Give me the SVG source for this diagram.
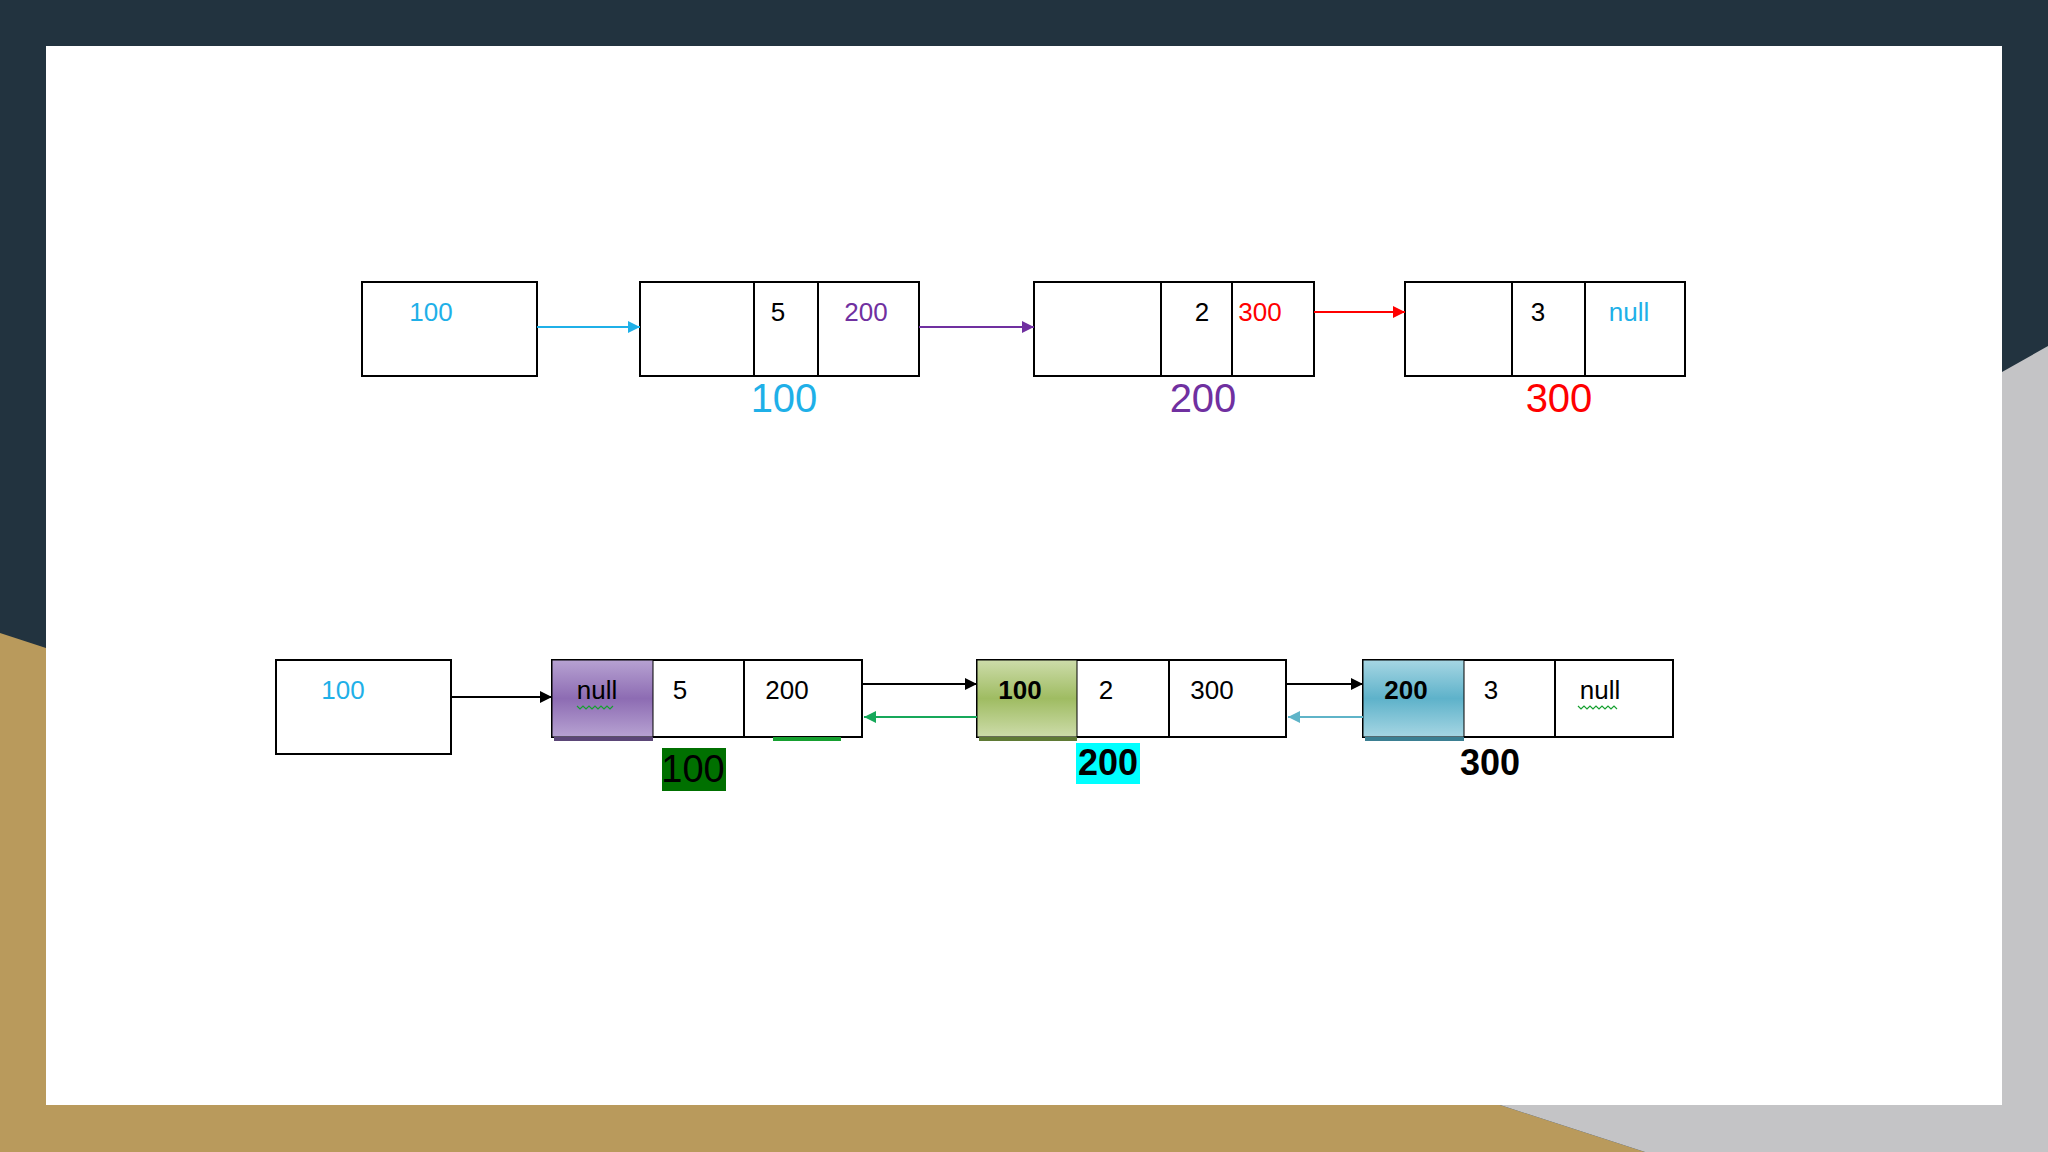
<svg xmlns="http://www.w3.org/2000/svg" width="2048" height="1152" viewBox="0 0 2048 1152">
<defs>
<style>
.b{fill:#fff;stroke:#000;stroke-width:2}
.l{stroke:#000;stroke-width:2}
.t{font-family:"Liberation Sans",Arial,sans-serif;font-size:26px;text-anchor:middle}
.big{font-family:"Liberation Sans",Arial,sans-serif;font-size:40px;text-anchor:middle}
.bd{font-weight:bold}
</style>
<marker id="mk" viewBox="0 0 10 10" refX="10" refY="5" markerWidth="6" markerHeight="6" orient="auto"><path d="M0,0L10,5L0,10z" fill="context-stroke"/></marker>
<marker id="mkB" viewBox="0 0 10 10" refX="10" refY="5" markerWidth="6" markerHeight="6" orient="auto"><path d="M0,0L10,5L0,10z" fill="#000"/></marker>
<marker id="mkC" viewBox="0 0 10 10" refX="10" refY="5" markerWidth="6" markerHeight="6" orient="auto"><path d="M0,0L10,5L0,10z" fill="#1fb0e8"/></marker>
<marker id="mkP" viewBox="0 0 10 10" refX="10" refY="5" markerWidth="6" markerHeight="6" orient="auto"><path d="M0,0L10,5L0,10z" fill="#7030a0"/></marker>
<marker id="mkR" viewBox="0 0 10 10" refX="10" refY="5" markerWidth="6" markerHeight="6" orient="auto"><path d="M0,0L10,5L0,10z" fill="#ff0000"/></marker>
<marker id="mkG" viewBox="0 0 10 10" refX="10" refY="5" markerWidth="6" markerHeight="6" orient="auto"><path d="M0,0L10,5L0,10z" fill="#16a85a"/></marker>
<marker id="mkT" viewBox="0 0 10 10" refX="10" refY="5" markerWidth="6" markerHeight="6" orient="auto"><path d="M0,0L10,5L0,10z" fill="#5fb4c8"/></marker>
<linearGradient id="gP" x1="0" y1="0" x2="0" y2="1"><stop offset="0" stop-color="#b7a2d2"/><stop offset=".5" stop-color="#8d6cb3"/><stop offset="1" stop-color="#b7a2d2"/></linearGradient>
<linearGradient id="gG" x1="0" y1="0" x2="0" y2="1"><stop offset="0" stop-color="#cddcaa"/><stop offset=".5" stop-color="#9fbc62"/><stop offset="1" stop-color="#cddcaa"/></linearGradient>
<linearGradient id="gB" x1="0" y1="0" x2="0" y2="1"><stop offset="0" stop-color="#a6d6e3"/><stop offset=".5" stop-color="#5eb2ca"/><stop offset="1" stop-color="#a6d6e3"/></linearGradient>
</defs>
<rect width="2048" height="1152" fill="#22333f"/>
<polygon points="0,633 46,648 46,1105 1500,1105 1645,1152 0,1152" fill="#b99a5c"/>
<polygon points="2048,346 2002,372 2002,1105 1500,1105 1645,1152 2048,1152" fill="#c4c4c6"/>
<rect x="46" y="46" width="1956" height="1059" fill="#fff"/>
<g id="head1"><rect class="b" x="362" y="282" width="175" height="94"/><text class="t" x="431" y="321" fill="#1fb0e8">100</text></g>
<g id="n100"><rect class="b" x="640" y="282" width="279" height="94"/><line class="l" x1="754" y1="282" x2="754" y2="376"/><line class="l" x1="818" y1="282" x2="818" y2="376"/>
<text class="t" x="778" y="321">5</text><text class="t" x="866" y="321" fill="#7030a0">200</text><text class="big" x="784" y="412" fill="#1fb0e8">100</text></g>
<g id="n200"><rect class="b" x="1034" y="282" width="280" height="94"/><line class="l" x1="1161" y1="282" x2="1161" y2="376"/><line class="l" x1="1232" y1="282" x2="1232" y2="376"/>
<text class="t" x="1202" y="321">2</text><text class="t" x="1260" y="321" fill="#ff0000">300</text><text class="big" x="1203" y="412" fill="#7030a0">200</text></g>
<g id="n300"><rect class="b" x="1405" y="282" width="280" height="94"/><line class="l" x1="1512" y1="282" x2="1512" y2="376"/><line class="l" x1="1585" y1="282" x2="1585" y2="376"/>
<text class="t" x="1538" y="321">3</text><text class="t" x="1629" y="321" fill="#1fb0e8">null</text><text class="big" x="1559" y="412" fill="#ff0000">300</text></g>
<g id="head2"><rect class="b" x="276" y="660" width="175" height="94"/><text class="t" x="343" y="699" fill="#1fb0e8">100</text></g>
<g id="d100"><rect class="b" x="552" y="660" width="310" height="77"/><rect x="552" y="660" width="101" height="77" fill="url(#gP)" stroke="#000" stroke-width="1"/><rect x="554" y="737" width="99" height="4" fill="#5b4677"/>
<line class="l" x1="744" y1="660" x2="744" y2="737"/><rect x="773" y="737" width="68" height="4" fill="#16a030"/>
<text class="t" x="597" y="699">null</text><path d="M577,706 l3,3 3,-3 3,3 3,-3 3,3 3,-3 3,3 3,-3 3,3 3,-3 3,3 3,-3" fill="none" stroke="#16a030" stroke-width="1.2"/>
<text class="t" x="680" y="699">5</text><text class="t" x="787" y="699">200</text>
<rect x="662" y="748" width="64" height="43" fill="#007000"/><text class="t" x="693" y="782" style="font-size:38px">100</text></g>
<g id="d200"><rect class="b" x="977" y="660" width="309" height="77"/><rect x="977" y="660" width="100" height="77" fill="url(#gG)" stroke="#000" stroke-width="1"/><rect x="979" y="737" width="98" height="4" fill="#5f7a35"/>
<line class="l" x1="1169" y1="660" x2="1169" y2="737"/>
<text class="t bd" x="1020" y="699">100</text><text class="t" x="1106" y="699">2</text><text class="t" x="1212" y="699">300</text>
<rect x="1076" y="743" width="64" height="41" fill="#00ffff"/><text class="t bd" x="1108" y="775" style="font-size:36px">200</text></g>
<g id="d300"><rect class="b" x="1363" y="660" width="310" height="77"/><rect x="1363" y="660" width="101" height="77" fill="url(#gB)" stroke="#000" stroke-width="1"/><rect x="1365" y="737" width="99" height="4" fill="#3b7f92"/>
<line class="l" x1="1555" y1="660" x2="1555" y2="737"/>
<text class="t bd" x="1406" y="699">200</text><text class="t" x="1491" y="699">3</text><text class="t" x="1600" y="699">null</text>
<path d="M1578,706 l3,3 3,-3 3,3 3,-3 3,3 3,-3 3,3 3,-3 3,3 3,-3 3,3 3,-3 3,3" fill="none" stroke="#16a030" stroke-width="1.2"/>
<text class="t bd" x="1490" y="775" style="font-size:36px">300</text></g>
<g id="connectors" fill="none" stroke-width="2">
<line x1="537" y1="327" x2="640" y2="327" stroke="#1fb0e8" marker-end="url(#mkC)"/>
<line x1="919" y1="327" x2="1034" y2="327" stroke="#7030a0" marker-end="url(#mkP)"/>
<line x1="1314" y1="312" x2="1405" y2="312" stroke="#ff0000" marker-end="url(#mkR)"/>
<line x1="451" y1="697" x2="552" y2="697" stroke="#000" marker-end="url(#mkB)"/>
<line x1="862" y1="684" x2="977" y2="684" stroke="#000" marker-end="url(#mkB)"/>
<line x1="977" y1="717" x2="864" y2="717" stroke="#16a85a" marker-end="url(#mkG)"/>
<line x1="1286" y1="684" x2="1363" y2="684" stroke="#000" marker-end="url(#mkB)"/>
<line x1="1363" y1="717" x2="1288" y2="717" stroke="#5fb4c8" marker-end="url(#mkT)"/>
</g>
</svg>
